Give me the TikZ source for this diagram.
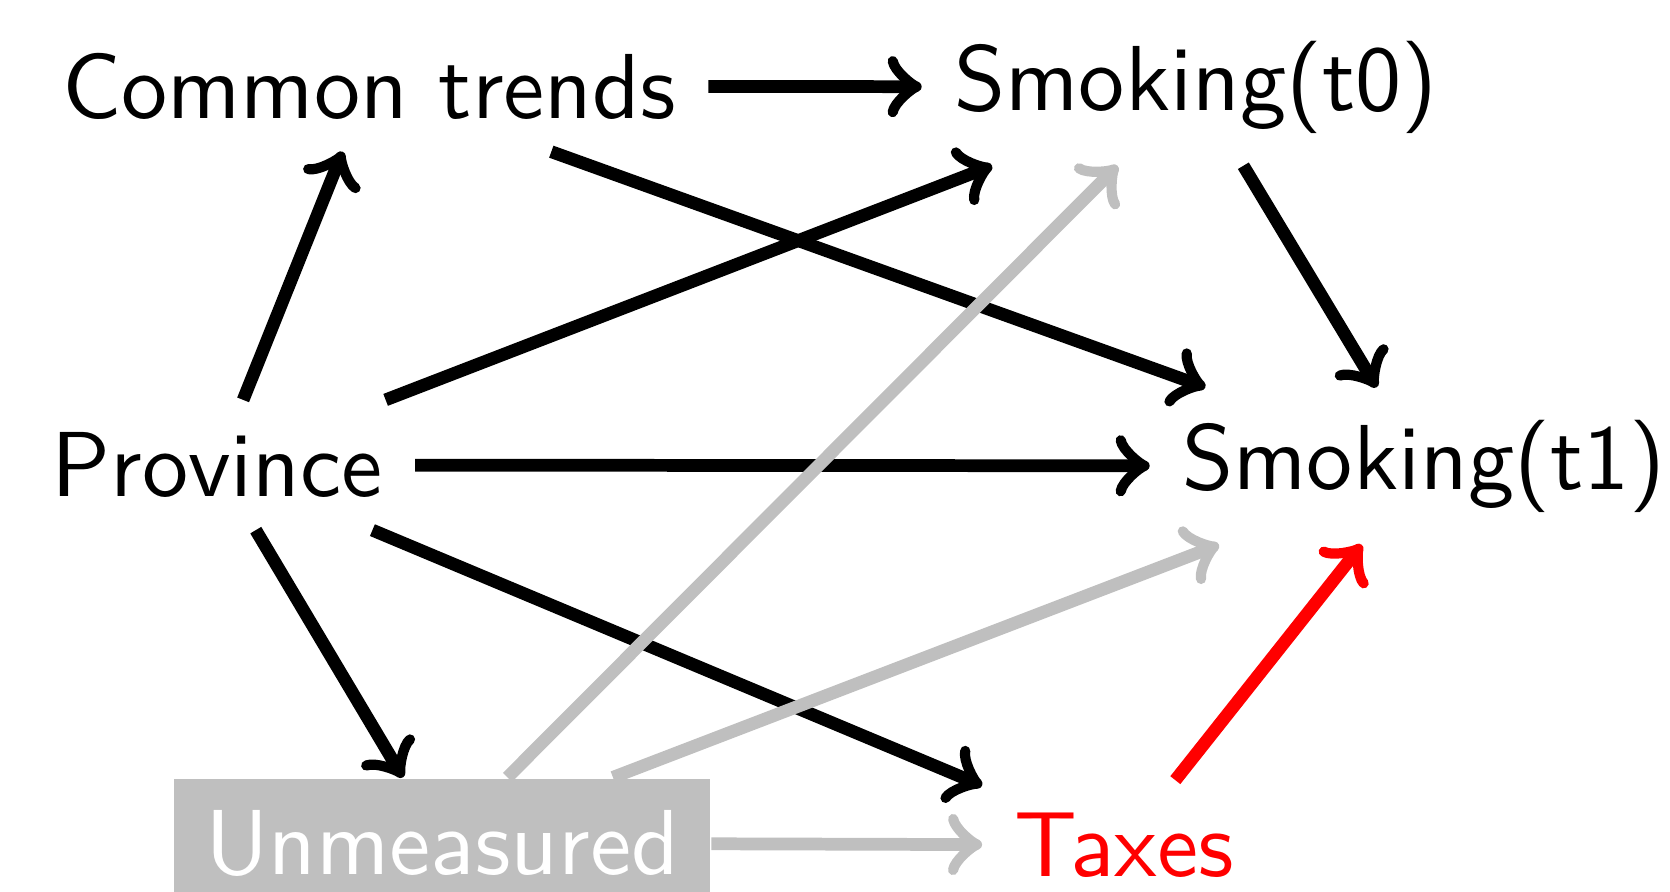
\documentclass[tikz,border=0pt]{standalone}
\usetikzlibrary{arrows}
\definecolor{lgray}{RGB}{191,191,191}
\begin{document}
\begin{tikzpicture}[x=0.10989pt,y=-0.10989pt,
  lbl/.style={font=\fontsize{10.15pt}{12pt}\sffamily, inner sep=3.38pt},
  edge/.style={line width=1.4pt, -to},
  gedge/.style={edge, draw=lgray},
  redge/.style={edge, draw=red}]
\useasboundingbox (0,0) rectangle (1670,892);
\node[lbl] (ct) at (369,86) {Common trends};
\node[lbl] (s0) at (1196,87) {Smoking(t0)};
\node[lbl] (prov) at (217,465) {Province};
\node[lbl] (s1) at (1424,466) {Smoking(t1)};
\node[lbl, fill=lgray, text=white] (unm) at (442,843) {Unmeasured};
\node[lbl, text=red] (tax) at (1124,845) {Taxes};
\draw[edge] (ct) -- (s0);
\draw[edge] (prov) -- (ct);
\draw[edge] (ct) -- (s1);
\draw[edge] (prov) -- (s0);
\draw[edge] (s0) -- (s1);
\draw[edge] (prov) -- (s1);
\draw[edge] (prov) -- (unm);
\draw[edge] (prov) -- (tax);
\draw[gedge] (unm) -- (s0);
\draw[gedge] (unm) -- (s1);
\draw[gedge] (unm) -- (tax);
\draw[redge] (tax) -- (s1);
\end{tikzpicture}
\end{document}
